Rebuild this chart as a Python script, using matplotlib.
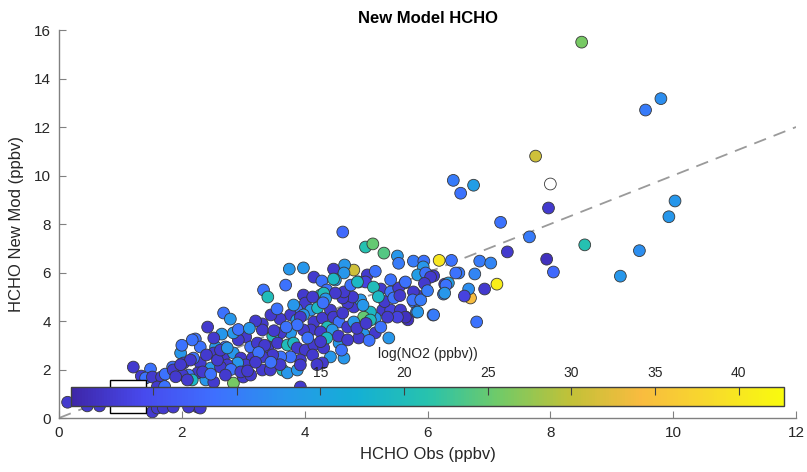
import numpy as np
import matplotlib
matplotlib.use('Agg')
import matplotlib.pyplot as plt
from matplotlib.colors import LinearSegmentedColormap
from matplotlib.patches import Rectangle

plt.rcParams['font.family'] = ['Liberation Sans', 'DejaVu Sans']

# ---------------- data ----------------
hcho_obs = [
    8.51, 9.80, 9.55, 7.76, 8.00, 6.42, 6.75, 6.54, 7.97, 7.19,
    7.66, 10.03, 9.93, 8.56, 9.45, 9.14, 7.30, 7.94, 8.05, 6.19,
    6.39, 6.85, 7.03, 7.13, 6.93, 6.70, 6.67, 6.60, 6.80, 6.09,
    6.51, 6.77, 6.28, 6.26, 6.34, 5.77, 5.94, 5.93, 5.84, 6.06,
    6.10, 5.63, 5.82, 5.78, 5.82, 5.64, 5.68,
    4.99, 5.11, 4.62, 5.29, 5.51, 5.53, 4.80, 4.65, 4.47, 5.02,
    4.88, 4.99, 4.64, 4.50, 5.24, 5.40, 5.53, 5.64, 5.97, 5.77,
    5.76, 5.89, 6.05, 6.30, 6.28, 6.46, 5.84, 6.10, 5.12, 5.27,
    5.40, 5.56, 5.64, 5.51, 5.35, 5.15, 5.07, 4.96, 5.07, 4.80,
    4.70, 4.91, 4.78, 4.62, 4.64, 4.96, 5.15, 5.24, 5.37, 4.88,
    4.56, 4.42, 4.64, 4.29,
    3.75, 3.98, 4.15, 4.28, 4.47, 4.36, 4.50, 4.75, 4.86, 3.69,
    3.33, 3.40, 3.98, 4.26,
    4.31, 4.34, 4.01, 3.87, 4.10, 4.21, 3.77, 3.98, 3.87, 4.15,
    4.29, 4.37, 4.10, 4.26, 3.98, 3.77, 3.61, 3.48, 3.31, 3.31,
    3.04, 2.92, 2.84, 2.65, 2.68, 2.79, 2.42, 2.22, 2.30, 2.55,
    2.71, 2.52, 2.68, 2.84, 2.96, 3.12, 3.23, 3.40, 3.56, 3.72,
    3.82, 3.88, 4.01, 4.15, 4.13, 4.31, 3.93, 3.77, 3.61, 3.48,
    3.31, 3.15, 3.04, 2.91, 2.74, 2.47, 2.30, 2.19, 2.26, 2.39,
    2.52, 2.84, 3.00, 3.12, 3.31, 3.44, 3.64, 3.72, 3.88, 3.93,
    3.93, 2.26,
    0.14, 0.46, 0.66, 1.52, 1.60, 1.70, 1.86, 2.11, 2.30, 1.21,
    1.49, 1.34, 1.41, 1.52, 1.67, 1.73, 1.85, 1.86, 1.98, 2.03,
    2.14, 2.17, 2.11, 2.17, 2.01, 2.09, 1.70, 1.60, 1.72, 2.34,
    2.47, 2.63, 2.58, 2.80, 2.71, 2.96, 3.07, 2.63, 2.74, 2.92,
    2.52, 1.98, 1.90,
    3.82, 3.93, 3.88, 4.13, 4.42, 4.47, 4.56, 4.62, 4.70, 4.80,
    4.45, 4.55, 4.70, 4.36, 4.26, 4.05, 3.60, 3.70, 3.50, 3.45,
    3.55, 3.20, 3.10, 3.35, 3.25, 4.30, 4.85, 5.00, 5.05, 4.95,
    5.30, 5.45, 5.20, 5.55, 5.40, 5.15, 5.95, 6.00,
    4.60, 4.20, 3.60, 3.45, 3.20, 2.40, 2.00,
]

hcho_mod = [
    15.50, 13.17, 12.70, 10.80, 9.65, 9.80, 9.60, 9.27, 8.66, 8.07,
    7.47, 8.95, 8.30, 7.14, 6.90, 5.85, 6.85, 6.55, 6.02, 6.50,
    6.50, 6.47, 6.39, 5.52, 5.32, 4.95, 5.32, 5.03, 3.96, 4.25,
    5.98, 5.94, 5.52, 5.11, 5.57, 6.47, 6.47, 6.23, 5.90, 5.86,
    5.86, 5.57, 5.07, 4.78, 4.37, 4.17, 4.05,
    7.05, 7.18, 7.67, 6.80, 6.68, 6.38, 6.10, 6.31, 6.14, 5.90,
    5.61, 5.61, 5.98, 5.69, 5.32, 5.20, 5.36, 5.61, 5.98, 5.20,
    4.87, 4.87, 5.81, 5.48, 5.15, 5.98, 4.37, 4.25, 5.40, 4.45,
    4.45, 4.45, 4.16, 4.16, 4.16, 4.12, 4.37, 4.16, 4.04, 4.58,
    4.74, 4.87, 4.99, 4.95, 5.20, 3.46, 3.51, 3.75, 3.30, 3.30,
    3.09, 2.52, 2.47, 2.27,
    6.14, 6.19, 5.81, 5.65, 5.73, 5.28, 5.15, 5.48, 5.61, 5.48,
    5.28, 4.99, 5.07, 5.07,
    5.15, 4.91, 4.74, 4.49, 4.45, 4.54, 4.25, 4.25, 4.04, 3.96,
    4.12, 3.75, 3.63, 3.55, 3.63, 3.51, 3.51, 3.38, 3.88, 3.63,
    3.34, 3.22, 3.51, 3.46, 4.33, 4.08, 3.75, 3.26, 2.93, 2.93,
    2.93, 2.68, 2.52, 2.68, 2.47, 2.93, 3.09, 2.93, 3.09, 3.01,
    3.09, 2.89, 2.80, 3.01, 2.60, 2.89, 2.39, 2.52, 2.52, 2.60,
    2.52, 2.47, 2.19, 2.27, 2.19, 2.06, 2.27, 2.47, 1.86, 1.57,
    1.48, 1.44, 1.69, 1.77, 1.98, 1.98, 1.98, 1.86, 1.98, 2.19,
    1.28, 0.45,
    0.65, 0.50, 0.50, 0.25, 0.41, 0.41, 0.45, 0.45, 0.41, 2.10,
    2.02, 1.73, 1.65, 1.69, 1.69, 1.81, 2.10, 1.98, 2.68, 2.27,
    2.39, 3.22, 1.77, 1.57, 1.77, 1.57, 1.28, 1.28, 1.30, 1.90,
    1.81, 2.10, 2.39, 2.00, 1.77, 1.90, 1.94, 2.80, 2.89, 3.65,
    3.30, 2.20, 1.70,
    4.66, 4.16, 3.84, 4.99, 4.45, 4.16, 3.96, 4.33, 3.75, 3.96,
    3.63, 3.38, 3.22, 3.30, 3.15, 3.30, 4.08, 3.75, 3.60, 4.25,
    4.50, 4.00, 3.70, 3.00, 2.70, 4.75, 3.70, 3.90, 3.20, 4.65,
    4.80, 4.95, 5.00, 5.05, 5.70, 6.05, 5.55, 5.25,
    2.80, 2.20, 2.20, 2.30, 2.30, 2.60, 3.00,
]

no2_log = [
    26, 12, 10, 31, np.nan, 10, 14, 9, 2.5, 9,
    10, 13, 13, 21, 12, 13, 2.5, 1.5, 8, 40,
    9, 10, 11, 41, 2.5, 34, 12, 3.5, 9, 9,
    10, 11, 2.5, 10, 14, 10, 9, 13, 14, 8,
    2.5, 1.5, 2.5, 10, 9, 2.5, 1.5,
    21, 25, 8, 24, 13, 10, 31, 13, 2.5, 2.5,
    21, 3.5, 13, 13, 2.5, 9, 2.5, 9, 9, 2.5,
    9, 10, 2.5, 9, 13, 9, 13, 10, 20, 2.5,
    3.5, 2.5, 1.5, 3.5, 2.5, 13, 19, 25, 20, 2.5,
    2.5, 13, 2.5, 2.5, 2.5, 13, 2.5, 9, 13, 2.5,
    13, 13, 13, 2.5,
    13, 13, 2.5, 9, 19, 9, 2.5, 9, 19, 9,
    9, 20, 2.5, 19,
    20, 13, 2.5, 9, 13, 19, 2.5, 13, 13, 2.5,
    2.5, 20, 2.5, 2.5, 2.5, 13, 2.5, 20, 2.5, 2.5,
    2.5, 2.5, 13, 13, 9, 13, 2.5, 9, 9, 13,
    9, 2.5, 2.5, 13, 2.5, 9, 2.5, 2.5, 2.5, 20,
    19, 2.5, 2.5, 2.5, 2.5, 2.5, 2.5, 9, 9, 2.5,
    2.5, 2.5, 2.5, 13, 2.5, 13, 2.5, 9, 2.5, 13,
    2.5, 26, 2.5, 2.5, 2.5, 2.5, 20, 13, 13, 2.5,
    2.5, 2.5,
    2.5, 2.5, 2.5, 2.5, 2.5, 2.5, 2.5, 2.5, 2.5, 2.5,
    9, 2.5, 9, 2.5, 2.5, 9, 9, 2.5, 13, 2.5,
    2.5, 9, 9, 19, 2.5, 2.5, 2.5, 2.5, 9, 2.5,
    9, 2.5, 2.5, 9, 2.5, 2.5, 2.5, 2.5, 13, 9,
    2.5, 2.5, 2.5,
    13, 2.5, 9, 2.5, 2.5, 2.5, 9, 2.5, 2.5, 13,
    13, 2.5, 2.5, 19, 2.5, 9, 2.5, 9, 2.5, 2.5,
    9, 2.5, 13, 2.5, 9, 9, 2.5, 2.5, 9, 13,
    2.5, 9, 19, 2.5, 9, 9, 2.5, 10,
    9, 2.5, 2.5, 9, 2.5, 2.5, 9,
]

one_to_one = [0, 12]
x_ticks = [0, 2, 4, 6, 8, 10, 12]
y_ticks = [0, 2, 4, 6, 8, 10, 12, 14, 16]
cbar_ticks = [5, 10, 15, 20, 25, 30, 35, 40]
cbar_ticklabels = ['', '', '15', '20', '25', '30', '35', '40']
cbar_range = (0.1, 42.7)

# ---------------- colormap (parula-like) ----------------
parula_pts = [
    (0.00, (0.2422, 0.1504, 0.6603)),
    (0.10, (0.2810, 0.2880, 0.9310)),
    (0.20, (0.2440, 0.4358, 0.9988)),
    (0.30, (0.1540, 0.5902, 0.9218)),
    (0.40, (0.0779, 0.6877, 0.8339)),
    (0.50, (0.1540, 0.7625, 0.6800)),
    (0.60, (0.4420, 0.7930, 0.4060)),
    (0.70, (0.7560, 0.7570, 0.2190)),
    (0.80, (0.9750, 0.7350, 0.2470)),
    (0.90, (0.9700, 0.8580, 0.1680)),
    (1.00, (0.9763, 0.9831, 0.0538)),
]
cmap = LinearSegmentedColormap.from_list('parula_like', parula_pts, N=256)
cmap.set_bad('white')

# ---------------- figure ----------------
fig = plt.figure(figsize=(8.07, 4.72), dpi=100)
ax = fig.add_axes([0.0731, 0.1144, 0.9133, 0.8220])

axis_gray = '#808080'
text_col = '#262626'

ax.plot(one_to_one, one_to_one, linestyle=(0, (7, 4.5)), color='#9a9a9a',
        linewidth=1.3, zorder=2)

sc = ax.scatter(hcho_obs, hcho_mod, c=no2_log, cmap=cmap,
                vmin=cbar_range[0], vmax=cbar_range[1], s=72,
                edgecolors='#383838', linewidths=0.6, plotnonfinite=True,
                zorder=3)

ax.set_xlim(0, 12)
ax.set_ylim(0, 16)
ax.set_xticks(x_ticks)
ax.set_yticks(y_ticks)
for side in ('top', 'right'):
    ax.spines[side].set_visible(False)
for side in ('left', 'bottom'):
    ax.spines[side].set_color(axis_gray)
    ax.spines[side].set_linewidth(1.0)
ax.tick_params(direction='in', length=5, width=0.8, color=axis_gray,
               labelcolor=text_col, labelsize=11, pad=6)

ax.set_xlabel('HCHO Obs (ppbv)', fontsize=12, color=text_col, labelpad=5)
ax.set_ylabel('HCHO New Mod (ppbv)', fontsize=12, color=text_col, labelpad=7)
ax.set_title('New Model HCHO', fontsize=12, fontweight='bold', color='black',
             pad=5)

# empty legend box
ax.add_patch(Rectangle((0.069, 0.013), 0.049, 0.085, transform=ax.transAxes,
                       facecolor='white', edgecolor='black', linewidth=1.0,
                       zorder=4))

# colorbar inside the axes
cax = fig.add_axes([0.088, 0.1398, 0.8835, 0.0403])
cb = fig.colorbar(sc, cax=cax, orientation='horizontal', ticks=cbar_ticks)
cb.set_ticklabels(cbar_ticklabels)
cax.xaxis.set_ticks_position('top')
cax.xaxis.set_label_position('top')
cax.tick_params(direction='in', length=6, width=0.8, color='#404040',
                labelcolor=text_col, labelsize=10, pad=5)
cb.outline.set_edgecolor('#404040')
cb.outline.set_linewidth(1.0)
cb.set_label('log(NO2 (ppbv))', fontsize=10, color=text_col, labelpad=6)

fig.savefig('out.png', dpi=100)
